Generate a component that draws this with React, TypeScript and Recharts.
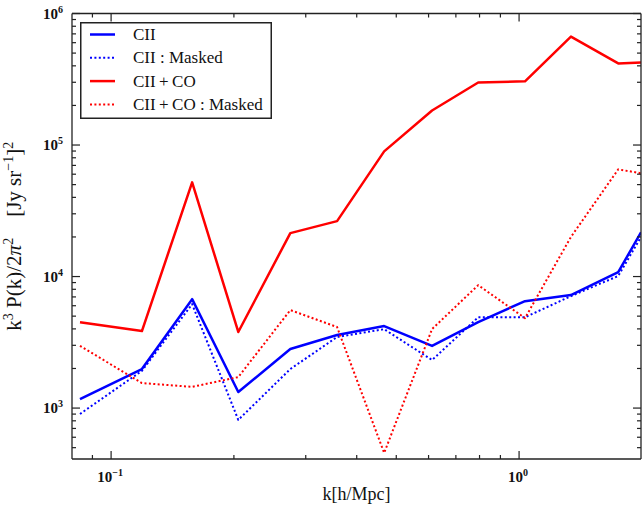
import React from 'react';
import { LineChart, Line, XAxis, YAxis, Legend } from 'recharts';

// Wavenumber bins k [h/Mpc]
const kValues = [0.0839, 0.119, 0.158, 0.205, 0.275, 0.358, 0.467, 0.612, 0.794, 1.034, 1.34, 1.75, 1.99];

// k^3 P(k) / 2pi^2 in [Jy/sr]^2
const ciiPower = [1170, 1980, 6730, 1324, 2810, 3590, 4200, 2970, 4510, 6500, 7230, 10800, 21700];
const ciiMaskedPower = [902, 1920, 6170, 813, 1980, 3470, 3980, 2320, 4900, 4900, 7100, 10100, 20000];
const ciiCoPower = [4500, 3850, 52000, 3790, 21400, 26400, 89500, 183000, 299000, 305000, 668000, 417000, 425000];
const ciiCoMaskedPower = [2970, 1550, 1450, 1720, 5560, 4130, 456, 3990, 8600, 4830, 20000, 65300, 61000];

// Axis ticks
const xMajorTicks = [0.1, 1];
const xMinorTicks = [0.09, 0.2, 0.3, 0.4, 0.5, 0.6, 0.7, 0.8, 0.9];
const yMajorTicks = [1e3, 1e4, 1e5, 1e6];
const yMinorTicks = [
  500, 600, 700, 800, 900,
  2000, 3000, 4000, 5000, 6000, 7000, 8000, 9000,
  20000, 30000, 40000, 50000, 60000, 70000, 80000, 90000,
  200000, 300000, 400000, 500000, 600000, 700000, 800000, 900000,
];

const xDomain = [0.0802, 1.99];
const yDomain = [410, 1e6];

const series = [
  { key: 'cii', name: 'CII', color: '#0000ff', dashed: false },
  { key: 'ciiMasked', name: 'CII : Masked', color: '#0000ff', dashed: true },
  { key: 'ciiCo', name: 'CII\u2009+\u2009CO', color: '#ff0000', dashed: false },
  { key: 'ciiCoMasked', name: 'CII\u2009+\u2009CO : Masked', color: '#ff0000', dashed: true },
];

const data = kValues.map((k, i) => ({
  k,
  cii: ciiPower[i],
  ciiMasked: ciiMaskedPower[i],
  ciiCo: ciiCoPower[i],
  ciiCoMasked: ciiCoMaskedPower[i],
}));

const xTickList = [...xMinorTicks, ...xMajorTicks].sort((a, b) => a - b);
const yTickList = [...yMinorTicks, ...yMajorTicks].sort((a, b) => a - b);

const SERIF = '"Liberation Serif", "DejaVu Serif", serif';
const AXIS_COLOR = '#222';
const MAJOR_LEN = 8;
const MINOR_LEN = 4;
const TICK_W = 1.2;
const DOT_DASH = '2 2.4';

const expText = (v: number) => {
  const e = Math.round(Math.log10(v));
  return e < 0 ? `\u2212${-e}` : `${e}`;
};

const PowerLabel = ({ x, y, v, anchor }: { x: number; y: number; v: number; anchor: string }) => (
  <text x={x} y={y} textAnchor={anchor} fontFamily={SERIF} fontWeight="bold" fontSize={15} fill="#111">
    <tspan>10</tspan>
    <tspan dy={-6} fontSize={10}>{expText(v)}</tspan>
  </text>
);

// Inward tick mark drawn as a thin filled bar
const Mark = ({ x1, y1, x2, y2 }: { x1: number; y1: number; x2: number; y2: number }) => {
  const vertical = x1 === x2;
  return (
    <rect
      x={vertical ? x1 - TICK_W / 2 : Math.min(x1, x2)}
      y={vertical ? Math.min(y1, y2) : y1 - TICK_W / 2}
      width={vertical ? TICK_W : Math.abs(x2 - x1)}
      height={vertical ? Math.abs(y2 - y1) : TICK_W}
      fill={AXIS_COLOR}
    />
  );
};

const BottomTick = (props: any) => {
  const x = Number(props.x);
  const y = Number(props.y);
  const v = props.payload.value;
  const major = xMajorTicks.includes(v);
  const len = major ? MAJOR_LEN : MINOR_LEN;
  return (
    <g>
      <Mark x1={x} y1={y} x2={x} y2={y - len} />
      {major && <PowerLabel x={x - 1} y={y + 23} v={v} anchor="middle" />}
    </g>
  );
};

const TopTick = (props: any) => {
  const x = Number(props.x);
  const y = Number(props.y);
  const len = xMajorTicks.includes(props.payload.value) ? MAJOR_LEN : MINOR_LEN;
  return <g><Mark x1={x} y1={y} x2={x} y2={y + len} /></g>;
};

const LeftTick = (props: any) => {
  const x = Number(props.x);
  const y = Number(props.y);
  const v = props.payload.value;
  const major = yMajorTicks.includes(v);
  const len = major ? MAJOR_LEN : MINOR_LEN;
  return (
    <g>
      <Mark x1={x} y1={y} x2={x + len} y2={y} />
      {major && <PowerLabel x={x - 9} y={y + 5} v={v} anchor="end" />}
    </g>
  );
};

const RightTick = (props: any) => {
  const x = Number(props.x);
  const y = Number(props.y);
  const len = yMajorTicks.includes(props.payload.value) ? MAJOR_LEN : MINOR_LEN;
  return <g><Mark x1={x - len} y1={y} x2={x} y2={y} /></g>;
};

const renderYLabel = (props: any) => {
  const vb = props.viewBox || {};
  const cx = vb.x + 21;
  const cy = vb.y + vb.height / 2;
  return (
    <text
      x={cx}
      y={cy}
      transform={`rotate(-90 ${cx} ${cy})`}
      textAnchor="middle"
      fontFamily={SERIF}
      fontSize={21}
      fill="#111"
    >
      <tspan>k</tspan>
      <tspan dy={-8} fontSize={14}>3</tspan>
      <tspan dy={8}>{' P(k)/2'}</tspan>
      <tspan fontStyle="italic">π</tspan>
      <tspan dy={-8} fontSize={14}>2</tspan>
      <tspan dy={8}>{'\u2002\u2002[Jy sr'}</tspan>
      <tspan dy={-8} fontSize={14}>{'\u22121'}</tspan>
      <tspan dy={8}>]</tspan>
      <tspan dy={-8} fontSize={14}>2</tspan>
    </text>
  );
};

const renderXLabel = (props: any) => {
  const vb = props.viewBox || {};
  return (
    <text x={vb.x + vb.width / 2} y={vb.y + 41} textAnchor="middle" fontFamily={SERIF} fontSize={18} fill="#111">
      k[h/Mpc]
    </text>
  );
};

const LegendBox = () => {
  const w = 192;
  const h = 97;
  return (
    <svg width={w} height={h} style={{ display: 'block' }}>
      <rect x={0.75} y={0.75} width={w - 1.5} height={h - 1.5} fill="#fff" stroke={AXIS_COLOR} strokeWidth={1.5} />
      {series.map((s, i) => {
        const cy = 12.5 + i * 23.3;
        return (
          <g key={s.key}>
            <line
              x1={10}
              x2={35}
              y1={cy}
              y2={cy}
              stroke={s.color}
              strokeWidth={s.dashed ? 2 : 2.5}
              strokeDasharray={s.dashed ? DOT_DASH : undefined}
            />
            <text x={53} y={cy + 5.5} fontFamily={SERIF} fontSize={17} fill="#111">
              {s.name}
            </text>
          </g>
        );
      })}
    </svg>
  );
};

const axisLine = { stroke: AXIS_COLOR, strokeWidth: 1.3 };

export default function App() {
  return (
    <div style={{ position: 'absolute', left: 0, top: 0, background: '#fff' }}>
      <LineChart width={642} height={515} data={data} margin={{ top: 12.5, right: 0, bottom: 0, left: 0 }}>
        <XAxis
          dataKey="k"
          type="number"
          scale="log"
          domain={xDomain}
          allowDataOverflow
          ticks={xTickList}
          interval={0}
          tickSize={0}
          tickMargin={0}
          tickLine={false}
          tick={BottomTick}
          height={56}
          axisLine={axisLine}
          label={renderXLabel}
        />
        <XAxis
          xAxisId="top"
          orientation="top"
          dataKey="k"
          type="number"
          scale="log"
          domain={xDomain}
          allowDataOverflow
          ticks={xTickList}
          interval={0}
          tickSize={0}
          tickMargin={0}
          tickLine={false}
          tick={TopTick}
          height={1}
          axisLine={axisLine}
        />
        <YAxis
          type="number"
          scale="log"
          domain={yDomain}
          allowDataOverflow
          ticks={yTickList}
          interval={0}
          tickSize={0}
          tickMargin={0}
          tickLine={false}
          tick={LeftTick}
          width={72}
          axisLine={axisLine}
          label={renderYLabel}
        />
        <YAxis
          yAxisId="right"
          orientation="right"
          type="number"
          scale="log"
          domain={yDomain}
          allowDataOverflow
          ticks={yTickList}
          interval={0}
          tickSize={0}
          tickMargin={0}
          tickLine={false}
          tick={RightTick}
          width={1}
          axisLine={axisLine}
        />
        {series.map((s) => (
          <Line
            key={s.key}
            dataKey={s.key}
            name={s.name}
            type="linear"
            stroke={s.color}
            strokeWidth={s.dashed ? 2 : 2.5}
            strokeDasharray={s.dashed ? DOT_DASH : undefined}
            strokeLinejoin="round"
            dot={false}
            activeDot={false}
            isAnimationActive={false}
          />
        ))}
        <Legend
          layout="vertical"
          align="center"
          verticalAlign="middle"
          content={LegendBox}
          wrapperStyle={{ position: 'absolute', left: 80, top: 22, width: 192, height: 97 }}
        />
      </LineChart>
    </div>
  );
}
